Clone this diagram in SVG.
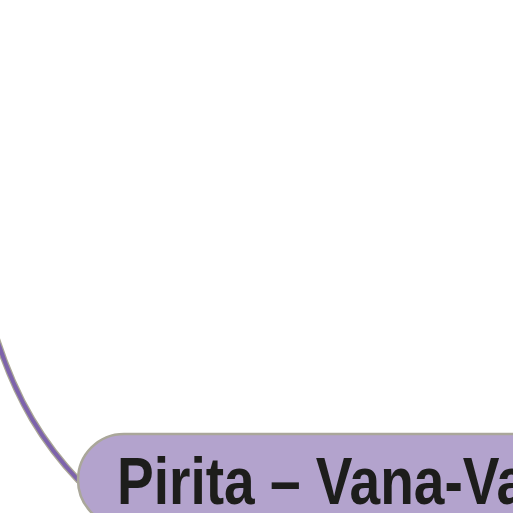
<svg xmlns="http://www.w3.org/2000/svg" width="513" height="513" viewBox="0 0 513 513">
<style>
.edge-out{fill:none;stroke:#aba797;stroke-width:6.5;stroke-linecap:butt}
.edge-in{fill:none;stroke:#7d63ab;stroke-width:4;stroke-linecap:butt}
.node{fill:#b3a3cd;stroke:#aaa79a;stroke-width:2.5}
.label{font-family:"Liberation Sans",Arial,sans-serif;font-weight:bold;font-size:66px;fill:#1d1d1b}
</style>
<rect width="513" height="513" fill="#ffffff"/>
<g id="connectors">
<path class="edge-out" d="M 79 481 C 45 445, 16 402, -6 330"/>
<path class="edge-in" d="M 79 481 C 45 445, 16 402, -6 330"/>
</g>
<g id="node-pirita">
<rect class="node" x="78" y="434" width="520" height="92" rx="46" ry="46"/>
<text class="label" x="117" y="504" textLength="410" lengthAdjust="spacingAndGlyphs">Pirita – Vana-Va</text>
</g>
</svg>
